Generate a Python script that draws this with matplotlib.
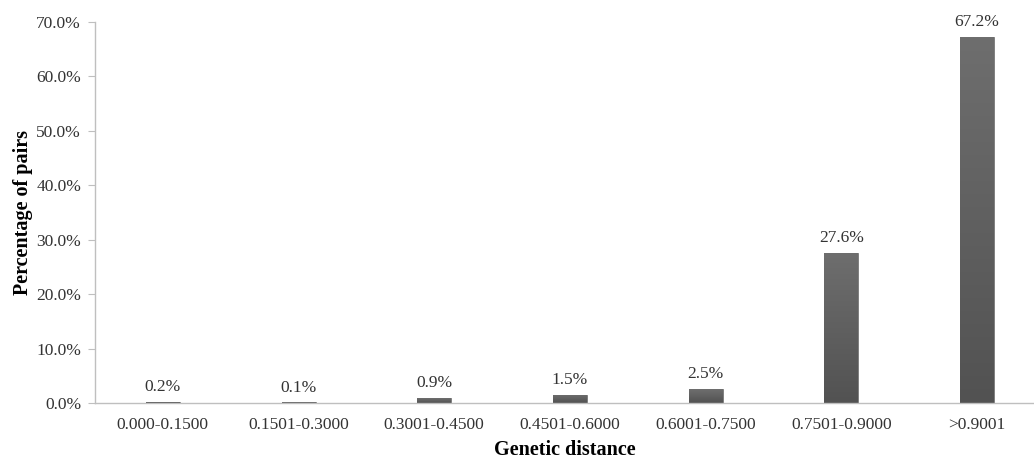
import numpy as np
import matplotlib.pyplot as plt
from matplotlib.colors import LinearSegmentedColormap

# Distribution of pairwise genetic distances
distance_classes = ['0.000-0.1500', '0.1501-0.3000', '0.3001-0.4500', '0.4501-0.6000',
                    '0.6001-0.7500', '0.7501-0.9000', '>0.9001']
pair_percent = [0.2, 0.1, 0.9, 1.5, 2.5, 27.6, 67.2]
y_ticks = [0, 10, 20, 30, 40, 50, 60, 70]

plt.rcParams['font.family'] = ['Liberation Serif', 'DejaVu Serif']

fig = plt.figure(figsize=(10.34, 4.63), dpi=100)
ax = fig.add_axes([95 / 1034, 60 / 463, 939 / 1034, 381 / 463])

x = range(len(distance_classes))
bars = ax.bar(x, pair_percent, width=0.25, color='#5a5a5a', edgecolor='#7a7a7a',
              linewidth=0.6, zorder=2)

# vertical gradient inside each bar, lighter at the top
grad = LinearSegmentedColormap.from_list('bar_grad', ['#525252', '#6e6e6e'])
ramp = np.linspace(0, 1, 256).reshape(-1, 1)
for b in bars:
    x0, y0 = b.get_x(), b.get_y()
    w, h = b.get_width(), b.get_height()
    im = ax.imshow(ramp, cmap=grad, origin='lower', aspect='auto',
                   extent=[x0, x0 + w, y0, y0 + h], zorder=2.5)
    im.set_clip_path(b)

for xi, v in zip(x, pair_percent):
    ax.annotate(f'{v:.1f}%', (xi, v), xytext=(0, 5), textcoords='offset points',
                ha='center', va='bottom', fontsize=12.5, color='#333333')

ax.set_xlim(-0.5, 6.42)
ax.set_ylim(0, 70)
ax.set_yticks(y_ticks)
ax.set_yticklabels([f'{t:.1f}%' for t in y_ticks], fontsize=12.5, color='#333333')
ax.set_xticks(list(x))
ax.set_xticklabels(distance_classes, fontsize=12.5, color='#333333')
ax.tick_params(axis='x', length=0, pad=10)
ax.tick_params(axis='y', length=5, color='#bfbfbf', pad=5)

for side in ['top', 'right']:
    ax.spines[side].set_visible(False)
for side in ['left', 'bottom']:
    ax.spines[side].set_color('#bfbfbf')
    ax.spines[side].set_linewidth(1.0)

ax.set_ylabel('Percentage of pairs', fontsize=14.5, fontweight='bold', labelpad=2)
ax.set_xlabel('Genetic distance', fontsize=14.5, fontweight='bold', labelpad=5)

fig.savefig('out.png', dpi=100)
